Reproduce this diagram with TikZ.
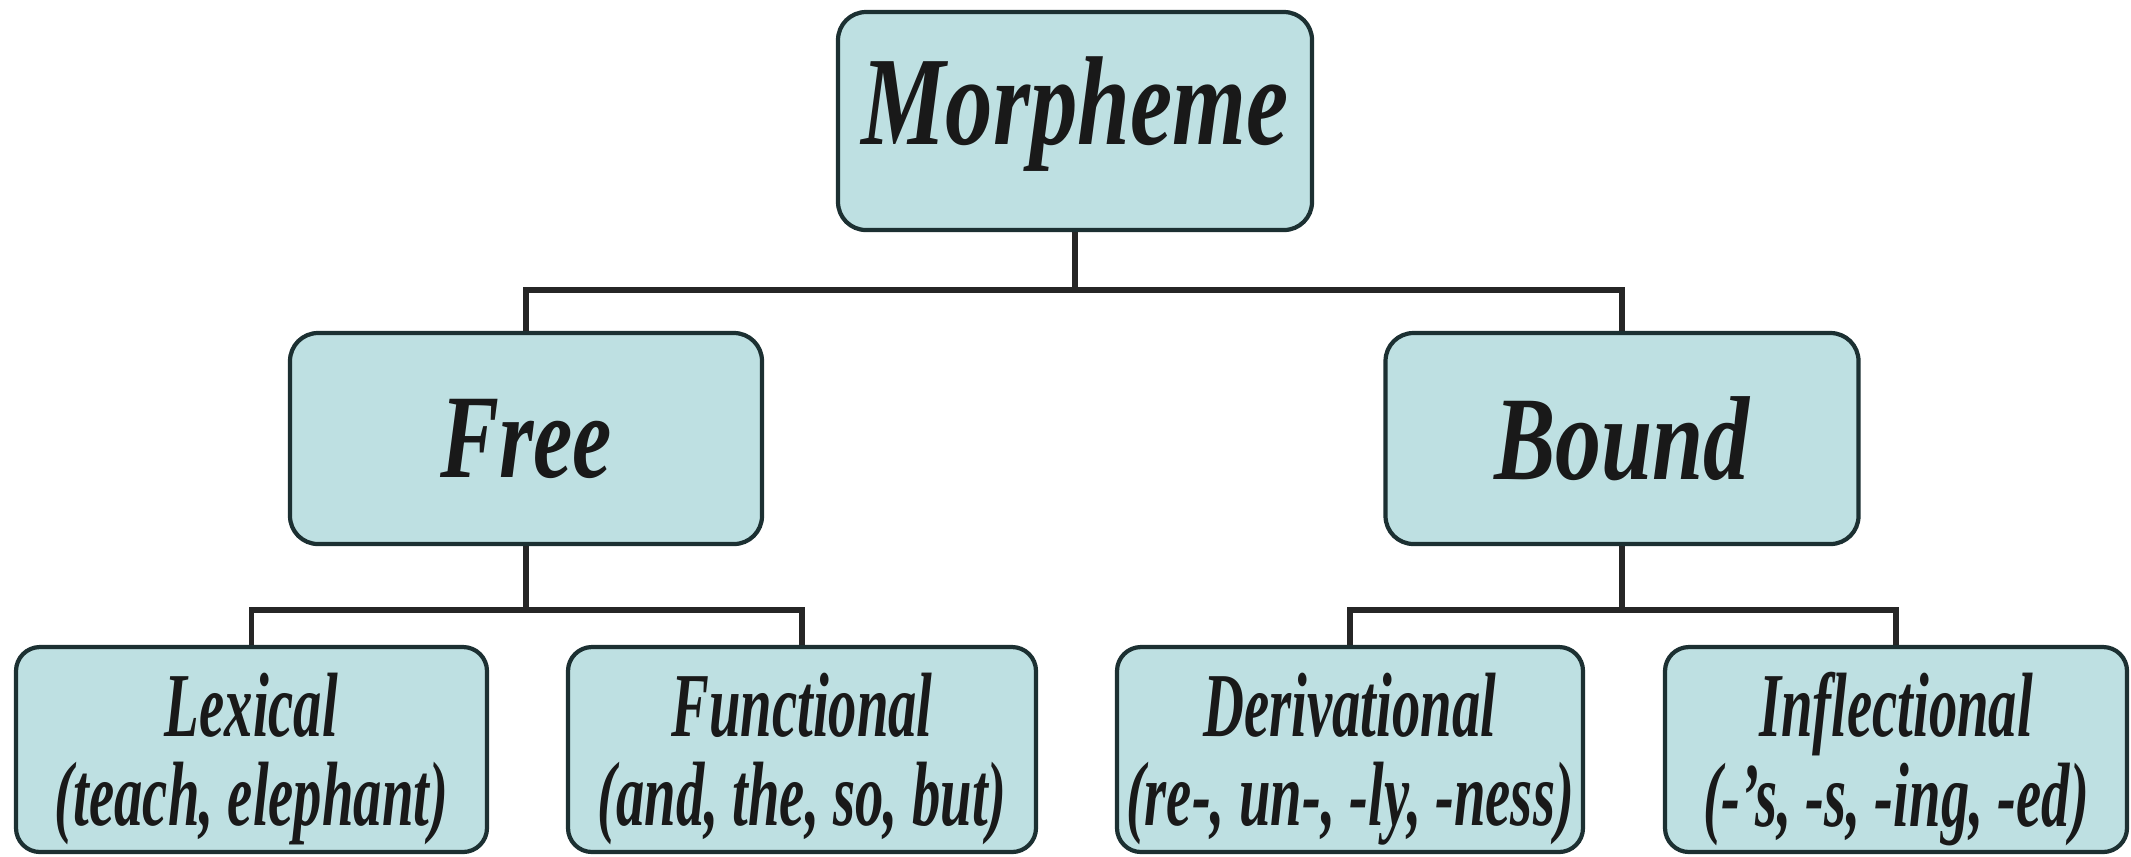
\documentclass[tikz,border=0pt]{standalone}
\usepackage{fontspec}
\setmainfont{Liberation Serif}
\definecolor{boxfill}{RGB}{190,224,226}
\definecolor{boxedge}{RGB}{28,48,50}
\newcommand{\toptxt}[2]{\raisebox{0.07cm}[\height][\depth]{\scalebox{#2}[1]{\fontsize{36}{40}\selectfont\bfseries\itshape #1}}}
\newcommand{\midtxt}[2]{\scalebox{#2}[1]{\fontsize{34}{38}\selectfont\bfseries\itshape #1}}
\newcommand{\lowtxt}[2]{\raisebox{-0.13cm}[\height][\depth]{\scalebox{0.62}[1]{\fontsize{26}{25}\selectfont\bfseries\itshape\begin{tabular}{@{}c@{}}#1\\#2\end{tabular}}}}
\begin{document}
\begin{tikzpicture}[
  box/.style={draw=boxedge, fill=boxfill, line width=1.2pt, rounded corners=0.28cm,
              inner sep=0pt, align=center, text=black!90},
  link/.style={draw=black!85, line width=1.6pt}
]
\useasboundingbox (0,0) rectangle (21.31,-8.56);
\node[box, minimum width=4.74cm, minimum height=2.18cm] (morph) at (10.75,-1.21) {\toptxt{Morpheme}{0.75}};
\node[box, minimum width=4.72cm, minimum height=2.11cm] (free) at (5.26,-4.385) {\midtxt{Free}{0.74}};
\node[box, minimum width=4.73cm, minimum height=2.11cm] (bound) at (16.22,-4.385) {\midtxt{Bound}{0.77}};
\node[box, rounded corners=0.24cm, minimum width=4.71cm, minimum height=2.05cm] (lex) at (2.515,-7.495) {\lowtxt{Lexical}{(teach, elephant)}};
\node[box, rounded corners=0.24cm, minimum width=4.68cm, minimum height=2.05cm] (fun) at (8.02,-7.495) {\lowtxt{Functional}{(and, the, so, but)}};
\node[box, rounded corners=0.24cm, minimum width=4.66cm, minimum height=2.05cm] (der) at (13.50,-7.495) {\lowtxt{Derivational}{(re-, un-, -ly, -ness)}};
\node[box, rounded corners=0.24cm, minimum width=4.62cm, minimum height=2.05cm] (inf) at (18.96,-7.495) {\lowtxt{Inflectional}{(-'s, -s, -ing, -ed)}};
\coordinate (j1) at (10.75,-2.90);
\coordinate (j2) at (5.26,-6.10);
\coordinate (j3) at (16.22,-6.10);
\draw[link] (morph.south) -- (j1);
\draw[link] (free.north) |- (j1) -| (bound.north);
\draw[link] (free.south) -- (j2);
\draw[link] (lex.north) |- (j2) -| (fun.north);
\draw[link] (bound.south) -- (j3);
\draw[link] (der.north) |- (j3) -| (inf.north);
\end{tikzpicture}
\end{document}
